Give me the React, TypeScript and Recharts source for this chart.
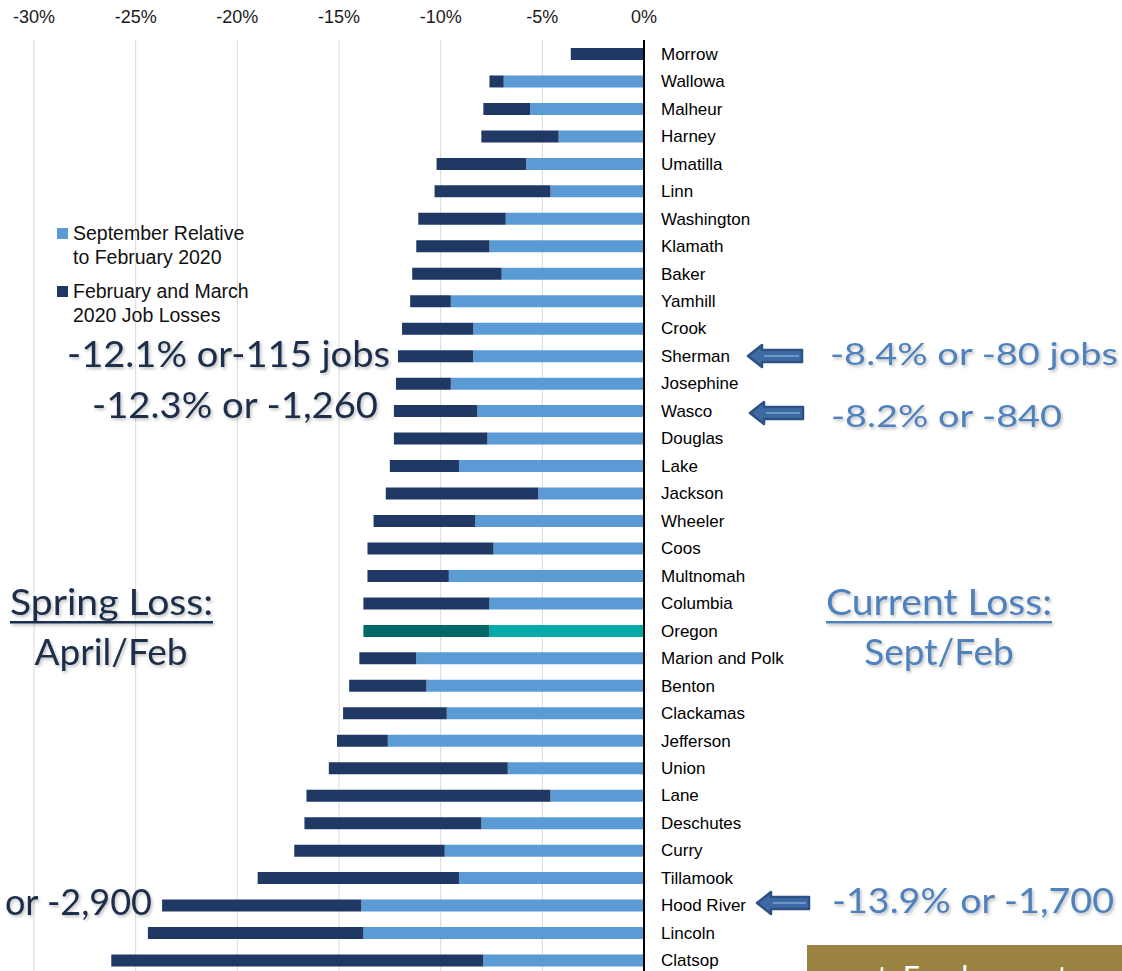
import { Bar, BarChart, CartesianGrid, Cell, XAxis, YAxis } from 'recharts'

const counties = [
  'Morrow', 'Wallowa', 'Malheur', 'Harney', 'Umatilla', 'Linn', 'Washington', 'Klamath', 'Baker',
  'Yamhill', 'Crook', 'Sherman', 'Josephine', 'Wasco', 'Douglas', 'Lake', 'Jackson', 'Wheeler',
  'Coos', 'Multnomah', 'Columbia', 'Oregon', 'Marion and Polk', 'Benton', 'Clackamas', 'Jefferson',
  'Union', 'Lane', 'Deschutes', 'Curry', 'Tillamook', 'Hood River', 'Lincoln', 'Clatsop',
]

// April 2020 relative to February 2020 (%)
const springLoss = [
  -3.6, -7.6, -7.9, -8.0, -10.2, -10.3, -11.1, -11.2, -11.4, -11.5, -11.9, -12.1, -12.2, -12.3,
  -12.3, -12.5, -12.7, -13.3, -13.6, -13.6, -13.8, -13.8, -14.0, -14.5, -14.8, -15.1, -15.5,
  -16.6, -16.7, -17.2, -19.0, -23.7, -24.4, -26.2,
]

// September 2020 relative to February 2020 (%)
const septLoss = [
  0, -6.9, -5.6, -4.2, -5.8, -4.6, -6.8, -7.6, -7.0, -9.5, -8.4, -8.4, -9.5, -8.2, -7.7, -9.1,
  -5.2, -8.3, -7.4, -9.6, -7.6, -7.6, -11.2, -10.7, -9.7, -12.6, -6.7, -4.6, -8.0, -9.8, -9.1,
  -13.9, -13.8, -7.9,
]

const xTicks = [-30, -25, -20, -15, -10, -5, 0]
const seriesNames = ['September Relative to February 2020', 'February and March 2020 Job Losses']

const LIGHT = '#5b9bd5'
const DARK = '#203864'
const TEAL_LIGHT = '#00aaa6'
const TEAL_DARK = '#006867'
const NAVY_TEXT = '#1c2d4a'
const BLUE_TEXT = '#4f81bd'

const rows = counties.map((c, i) => ({
  county: c,
  sept: septLoss[i],
  rest: springLoss[i] - septLoss[i],
}))

const sansFont = '"Liberation Sans", Arial, sans-serif'
const noteFont = 'Lato, "Open Sans", sans-serif'

function TopTick({ x, y, payload }: any) {
  return (
    <text x={x} y={y} textAnchor="middle" fontSize={18} fontFamily={sansFont} fill="#1a1a1a">
      {`${payload.value}%`}
    </text>
  )
}

function CountyTick({ x, y, payload }: any) {
  return (
    <text x={x} y={y} dy={6} textAnchor="start" fontSize={17} fontFamily={sansFont} fill="#000">
      {payload.value}
    </text>
  )
}

function Arrow({ tip, cy, len = 54 }: { tip: number; cy: number; len?: number }) {
  const head = 14
  const hh = 11
  const sh = 6
  const pts = [
    [tip, cy],
    [tip + head, cy - hh],
    [tip + head, cy - sh],
    [tip + len, cy - sh],
    [tip + len, cy + sh],
    [tip + head, cy + sh],
    [tip + head, cy + hh],
  ]
  return (
    <g>
      <polygon
        points={pts.map((p) => p.join(',')).join(' ')}
        fill="#3e6aa3"
        stroke="#2d5184"
        strokeWidth={2.5}
        strokeLinejoin="round"
      />
      <line x1={tip + head + 2} x2={tip + len - 3} y1={cy} y2={cy} stroke="#6f95c6" strokeWidth={2} />
    </g>
  )
}

function Overlay() {
  const legendRows = [
    { color: LIGHT, y: 228, lines: ['September Relative', 'to February 2020'], name: seriesNames[0] },
    { color: DARK, y: 286, lines: ['February and March', '2020 Job Losses'], name: seriesNames[1] },
  ]
  return (
    <svg
      width={1122}
      height={971}
      style={{ position: 'absolute', left: 0, top: 0, pointerEvents: 'none' }}
    >
      <defs>
        <filter id="shadow" x="-5%" y="-20%" width="110%" height="150%">
          <feDropShadow dx={1.5} dy={2} stdDeviation={1.5} floodColor="#000" floodOpacity={0.25} />
        </filter>
      </defs>

      {legendRows.map((r) => (
        <g key={r.name}>
          <rect x={57} y={r.y} width={11} height={11} fill={r.color} />
          {r.lines.map((t, i) => (
            <text key={t} x={73} y={r.y + 12 + i * 23.5} fontSize={19.5} fontFamily={sansFont} fill="#111">
              {t}
            </text>
          ))}
        </g>
      ))}

      <g filter="url(#shadow)" fontFamily={noteFont}>
        <text x={67} y={367} fontSize={37} fill={NAVY_TEXT} textLength={323} lengthAdjust="spacingAndGlyphs">
          -12.1% or-115 jobs
        </text>
        <text x={92} y={418} fontSize={36} fill={NAVY_TEXT} textLength={286} lengthAdjust="spacingAndGlyphs">
          -12.3% or -1,260
        </text>
        <text x={152} y={915} fontSize={36} fill={NAVY_TEXT} textAnchor="end">
          -23.7% or -2,900
        </text>

        <text x={10} y={615} fontSize={37} fill={NAVY_TEXT} textLength={203} lengthAdjust="spacingAndGlyphs">
          Spring Loss:
        </text>
        <rect x={10} y={621} width={203} height={2.5} fill={NAVY_TEXT} />
        <text x={111} y={665} fontSize={37} fill={NAVY_TEXT} textAnchor="middle">
          April/Feb
        </text>

        <text x={826} y={615} fontSize={37} fill={BLUE_TEXT} textLength={226} lengthAdjust="spacingAndGlyphs">
          Current Loss:
        </text>
        <rect x={826} y={621} width={226} height={2.5} fill={BLUE_TEXT} />
        <text x={939} y={665} fontSize={37} fill={BLUE_TEXT} textAnchor="middle">
          Sept/Feb
        </text>

        <text x={830} y={365} fontSize={31} fill={BLUE_TEXT} textLength={288} lengthAdjust="spacingAndGlyphs">
          -8.4% or -80 jobs
        </text>
        <text x={831} y={427} fontSize={31} fill={BLUE_TEXT} textLength={231} lengthAdjust="spacingAndGlyphs">
          -8.2% or -840
        </text>
        <text x={832} y={913} fontSize={34} fill={BLUE_TEXT} textLength={282} lengthAdjust="spacingAndGlyphs">
          -13.9% or -1,700
        </text>
      </g>

      <Arrow tip={748} cy={356} />
      <Arrow tip={750} cy={413} len={53} />
      <Arrow tip={757} cy={903} len={52} />

      <rect x={807} y={945} width={320} height={40} fill="#9b8441" />
      <text x={863} y={988} fontSize={30} fontFamily={noteFont} fill="#fff">
        ct. Employment
      </text>
    </svg>
  )
}

export default function App() {
  return (
    <div
      style={{
        position: 'absolute',
        left: 0,
        top: 0,
        width: 1122,
        height: 971,
        overflow: 'hidden',
        background: '#fff',
      }}
    >
      <BarChart
        width={1122}
        height={974}
        data={rows}
        layout="vertical"
        margin={{ top: 0, right: 0, bottom: 0, left: 34 }}
      >
        <CartesianGrid horizontal={false} stroke="#d9d9d9" strokeWidth={1} />
        <XAxis
          type="number"
          orientation="top"
          domain={[-30, 0]}
          ticks={xTicks}
          allowDataOverflow
          height={40}
          axisLine={false}
          tickLine={false}
          tickSize={0}
          tickMargin={17}
          tick={<TopTick />}
        />
        <YAxis
          type="category"
          dataKey="county"
          orientation="right"
          width={478}
          axisLine={{ stroke: '#000', strokeWidth: 2 }}
          tickLine={false}
          tickSize={0}
          tickMargin={17}
          interval={0}
          tick={<CountyTick />}
        />
        <Bar dataKey="sept" name={seriesNames[0]} stackId="a" barSize={12} fill={LIGHT} isAnimationActive={false}>
          {rows.map((r) => (
            <Cell key={r.county} fill={r.county === 'Oregon' ? TEAL_LIGHT : LIGHT} />
          ))}
        </Bar>
        <Bar dataKey="rest" name={seriesNames[1]} stackId="a" barSize={12} fill={DARK} isAnimationActive={false}>
          {rows.map((r) => (
            <Cell key={r.county} fill={r.county === 'Oregon' ? TEAL_DARK : DARK} />
          ))}
        </Bar>
      </BarChart>
      <Overlay />
    </div>
  )
}
